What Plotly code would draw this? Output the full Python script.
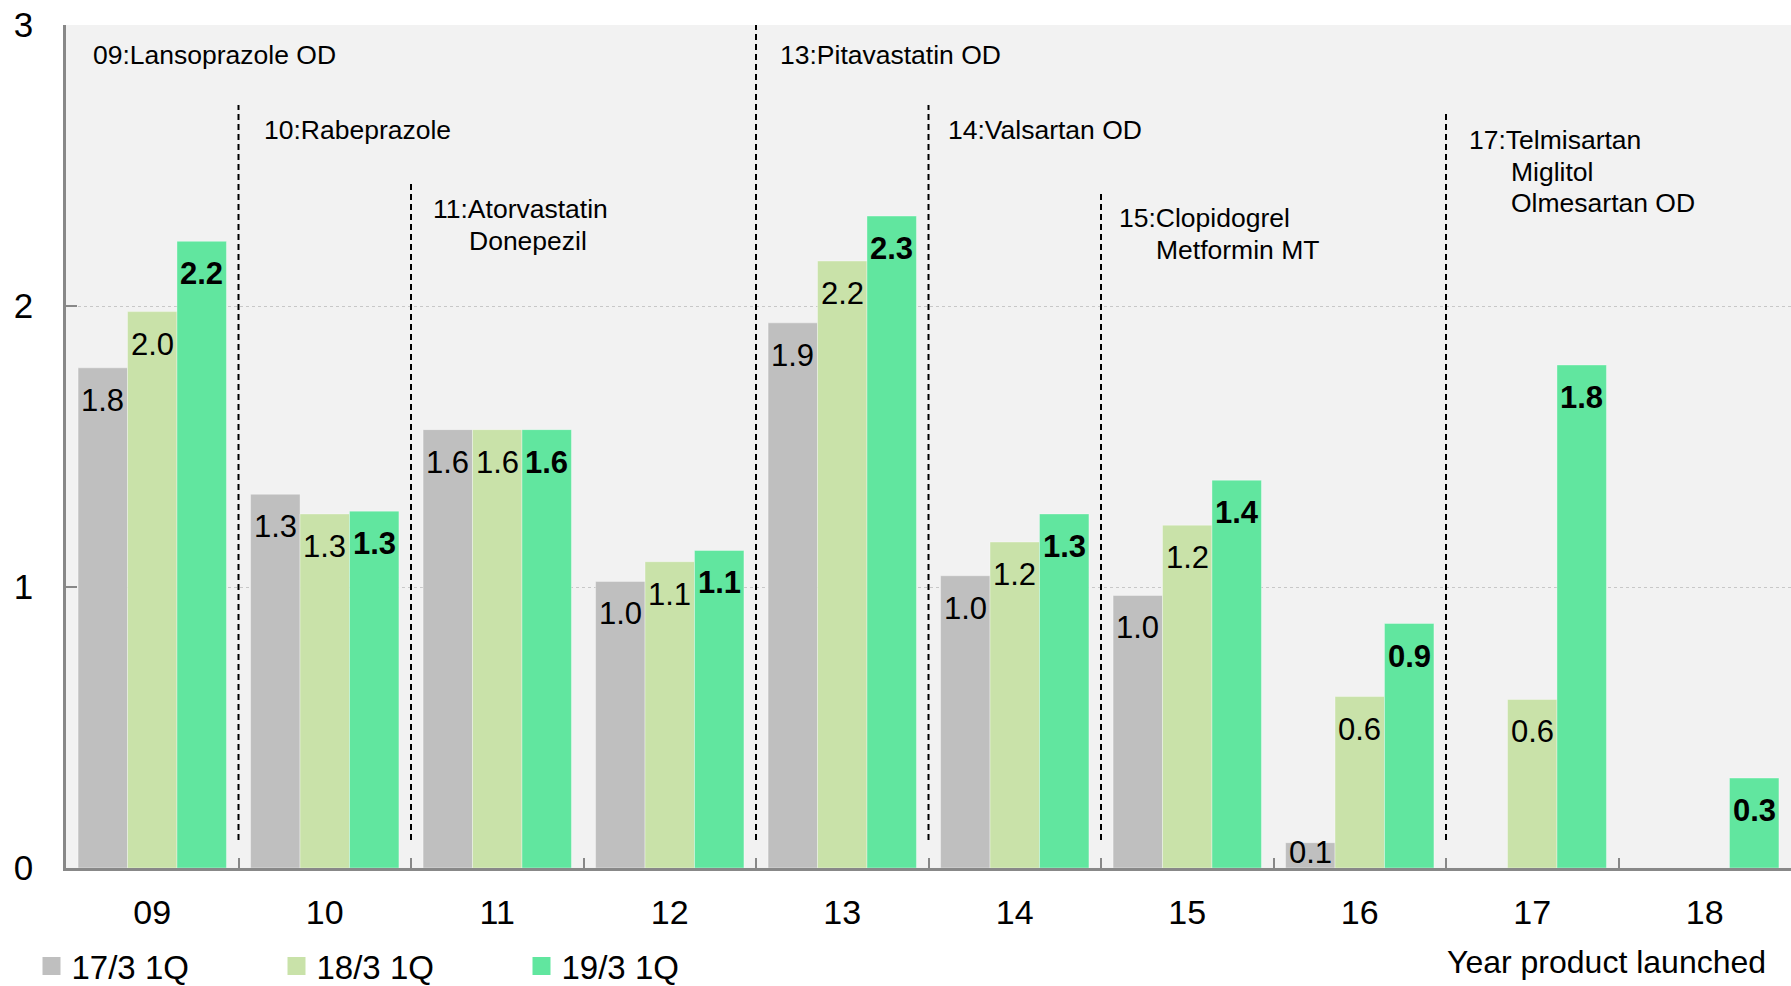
import plotly.graph_objects as go

# Launch year of each product group (x categories)
years = ["09", "10", "11", "12", "13", "14", "15", "16", "17", "18"]

# Values per quarter series (None = no bar)
q1_fy17 = [1.78, 1.33, 1.56, 1.02, 1.94, 1.04, 0.97, 0.09, None, None]
q1_fy18 = [1.98, 1.26, 1.56, 1.09, 2.16, 1.16, 1.22, 0.61, 0.60, None]
q1_fy19 = [2.23, 1.27, 1.56, 1.13, 2.32, 1.26, 1.38, 0.87, 1.79, 0.32]

series_names = ["17/3 1Q", "18/3 1Q", "19/3 1Q"]
series_colors = ["#bfbfbf", "#c9e2a9", "#61e69f"]
series_values = [q1_fy17, q1_fy18, q1_fy19]

# Products launched in each year
launch_text = [
    ["09:Lansoprazole OD"],
    ["10:Rabeprazole"],
    ["11:Atorvastatin", "Donepezil"],
    ["13:Pitavastatin OD"],
    ["14:Valsartan OD"],
    ["15:Clopidogrel", "Metformin MT"],
    ["17:Telmisartan", "Miglitol", "Olmesartan OD"],
]

# Placement of the launch notes (category units / y units)
launch_x = [[-0.355], [0.634], [1.618, 1.826], [3.626], [4.604],
            [5.594, 5.808], [7.619, 7.868, 7.868]]
launch_y = [2.893, 2.626, 2.345, 2.893, 2.626, 2.313, 2.591]
line_step = 0.113

# Dashed dividers between launch years
divider_x = [0.5, 1.5, 3.5, 4.5, 5.5, 7.5]
divider_top = [2.715, 2.448, 3.0, 2.715, 2.406, 2.683]
divider_bottom = 0.1

FONT = "Arial, Liberation Sans, sans-serif"
BARGAP = 0.14

fig = go.Figure()

for name, color, vals in zip(series_names, series_colors, series_values):
    fig.add_trace(go.Bar(
        x=years, y=vals, name=name,
        marker=dict(color=color, line=dict(width=1, color="rgba(255,255,255,0.35)")),
        showlegend=False, hoverinfo="x+y+name",
    ))

# Legend entries with large square swatches
for name, color in zip(series_names, series_colors):
    fig.add_trace(go.Scatter(
        x=[None], y=[None], mode="markers", name=name,
        marker=dict(symbol="square", size=16, color=color,
                    line=dict(color=color, width=2)),
    ))

annotations = []

# Value labels inside the top of each bar
bar_w = (1 - BARGAP) / len(series_values)
for k, vals in enumerate(series_values):
    offset = (k - (len(series_values) - 1) / 2) * bar_w
    for i, v in enumerate(vals):
        if v is None:
            continue
        txt = f"{v:.1f}"
        if k == len(series_values) - 1:
            txt = f"<b>{txt}</b>"
        small = v < 0.15
        annotations.append(dict(
            x=i + offset, y=0 if small else v, xref="x", yref="y",
            text=txt, showarrow=False, xanchor="center",
            yanchor="bottom" if small else "top",
            yshift=-4 if small else -13,
            font=dict(family=FONT, size=31, color="#000000"),
        ))

# Launch notes
for lines, xs, y0 in zip(launch_text, launch_x, launch_y):
    for j, (line, xx) in enumerate(zip(lines, xs)):
        annotations.append(dict(
            x=xx, y=y0 - j * line_step, xref="x", yref="y",
            text=line, showarrow=False, xanchor="left", yanchor="middle",
            font=dict(family=FONT, size=26.5, color="#000000"),
        ))

annotations.append(dict(
    x=0.893, y=-0.1115, xref="paper", yref="paper",
    text="Year product launched", showarrow=False,
    xanchor="center", yanchor="middle",
    font=dict(family=FONT, size=32, color="#000000"),
))

shapes = [
    dict(type="line", xref="x", yref="y", x0=bx, x1=bx,
         y0=divider_bottom, y1=top,
         line=dict(color="#000000", width=2, dash="6px,4px"))
    for bx, top in zip(divider_x, divider_top)
]

fig.update_layout(
    width=1791, height=986,
    margin=dict(l=66, r=0, t=25, b=118, autoexpand=False),
    paper_bgcolor="#ffffff", plot_bgcolor="#f2f2f2",
    barmode="group", bargap=BARGAP, bargroupgap=0,
    font=dict(family=FONT, color="#000000"),
    annotations=annotations, shapes=shapes,
    legend=dict(
        orientation="h", x=-0.02, xanchor="left", y=-0.1163, yanchor="middle",
        font=dict(family=FONT, size=33, color="#000000"),
        entrywidth=200, entrywidthmode="pixels",
        bgcolor="rgba(0,0,0,0)", itemsizing="trace",
    ),
    xaxis=dict(
        type="category", categoryorder="array", categoryarray=years,
        range=[-0.5, 9.5], tickson="boundaries",
        ticks="inside", ticklen=10, tickwidth=2, tickcolor="#888888",
        showline=True, linecolor="#888888", linewidth=2.5,
        showgrid=False, tickfont=dict(family=FONT, size=34, color="#000000"),
        ticklabelstandoff=12,
    ),
    yaxis=dict(
        range=[0, 3], tickvals=[0, 1, 2, 3], ticktext=["0", "1", "2", "3"],
        ticks="inside", ticklen=11, tickwidth=2, tickcolor="#888888",
        showline=True, linecolor="#888888", linewidth=2.5,
        showgrid=True, gridcolor="#c8c8c8", griddash="dot", gridwidth=1,
        zeroline=False, tickfont=dict(family=FONT, size=35, color="#000000"),
        ticklabelstandoff=23,
    ),
)

fig.write_html("out.html")
